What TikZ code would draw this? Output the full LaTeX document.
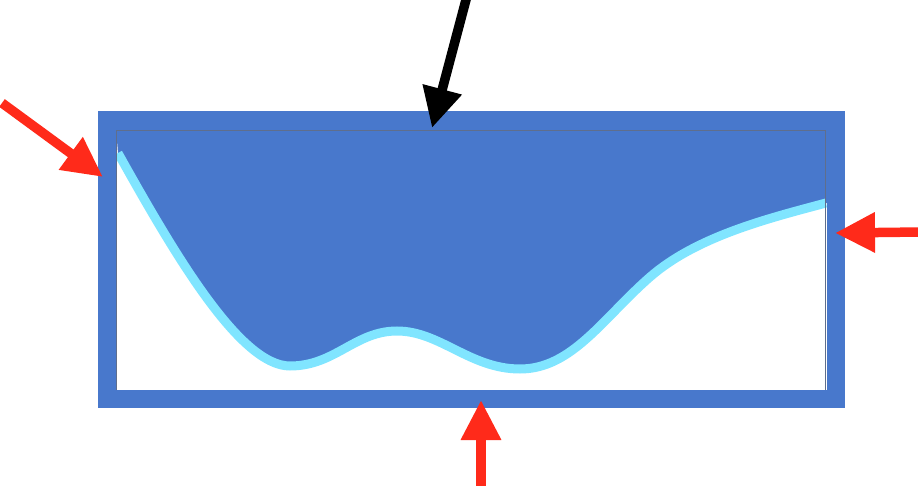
\documentclass[tikz,border=0pt]{standalone}
\usetikzlibrary{arrows.meta}
\definecolor{frameblue}{RGB}{72,120,204}
\definecolor{curvecyan}{RGB}{128,229,255}
\definecolor{markred}{RGB}{255,42,26}
\definecolor{axisgray}{RGB}{95,110,140}
\begin{document}
\begin{tikzpicture}[x=1pt, y=-1pt,
    pointer/.style={line width=9.5pt, -{Triangle[length=40pt,width=38pt]}}]
      \useasboundingbox (0,0) rectangle (918,486);
      \fill[frameblue] (116,128) -- (118,153)
        .. controls (175,255) and (240,366) .. (290,366)
        .. controls (335,366) and (355,331) .. (397,331)
        .. controls (440,331) and (470,369) .. (520,369)
        .. controls (572,369) and (603,318) .. (650,277)
        .. controls (697,236) and (770,218) .. (827,203) -- (827,128) -- cycle;
      \draw[curvecyan, line width=9pt] (118,153)
        .. controls (175,255) and (240,366) .. (290,366)
        .. controls (335,366) and (355,331) .. (397,331)
        .. controls (440,331) and (470,369) .. (520,369)
        .. controls (572,369) and (603,318) .. (650,277)
        .. controls (697,236) and (770,218) .. (826,203);
      \draw[frameblue, line width=18pt] (107,120) rectangle (836,399);
      \draw[axisgray, line width=1.4pt] (116.2,390) -- (116.2,130.7) -- (825.5,130.7) -- (825.5,390);
      % what the arrows point at
      \coordinate (topedge) at (432,128);
      \coordinate (leftedge) at (103,177);
      \coordinate (rightedge) at (835,233);
      \coordinate (bottomedge) at (481,400);
      \draw[pointer] (467,-4) -- (topedge);
      \draw[pointer, markred] (2,103) -- (leftedge);
      \draw[pointer, markred] (922,232) -- (rightedge);
      \draw[pointer, markred] (481,490) -- (bottomedge);
    \end{tikzpicture}
\end{document}
